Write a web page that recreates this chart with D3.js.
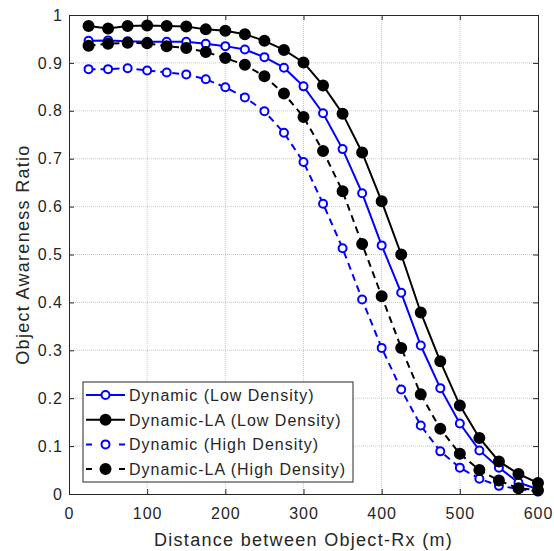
<!DOCTYPE html>
<html>
<head>
<meta charset="utf-8">
<script src="https://cdn.jsdelivr.net/npm/d3@7"></script>
<style>
  body { margin: 0; background: #fff; }
  svg text { font-family: "Liberation Sans", Arial, sans-serif; fill: #262626; }
</style>
</head>
<body>
<div id="chart"></div>
<script>
// distances (m)
const distances = [25, 50, 75, 100, 125, 150, 175, 200, 225, 250, 275, 300,
  325, 350, 375, 400, 425, 450, 475, 500, 525, 550, 575, 600];

const dynamicLow = [0.946, 0.947, 0.945, 0.944, 0.944, 0.944, 0.940, 0.935, 0.928, 0.912, 0.890, 0.851,
  0.795, 0.720, 0.628, 0.519, 0.420, 0.310, 0.221, 0.147, 0.091, 0.055, 0.024, 0.010];
const dynamicLALow = [0.977, 0.972, 0.977, 0.978, 0.977, 0.976, 0.970, 0.967, 0.960, 0.946, 0.927, 0.901,
  0.853, 0.794, 0.713, 0.611, 0.500, 0.379, 0.277, 0.185, 0.117, 0.068, 0.042, 0.023];
const dynamicHigh = [0.887, 0.887, 0.889, 0.884, 0.880, 0.876, 0.866, 0.849, 0.828, 0.799, 0.754, 0.693,
  0.606, 0.513, 0.406, 0.305, 0.218, 0.143, 0.089, 0.055, 0.032, 0.017, 0.011, 0.005];
const dynamicLAHigh = [0.936, 0.940, 0.942, 0.941, 0.935, 0.931, 0.923, 0.910, 0.896, 0.872, 0.836, 0.787,
  0.716, 0.632, 0.522, 0.413, 0.305, 0.208, 0.136, 0.084, 0.050, 0.028, 0.012, 0.008];

const xTicks = [0, 100, 200, 300, 400, 500, 600];
const yTicks = [0, 0.1, 0.2, 0.3, 0.4, 0.5, 0.6, 0.7, 0.8, 0.9, 1];

const series = [
  { name: "Dynamic (Low Density)", values: dynamicLow, color: "#0000ff", dash: null, filled: false },
  { name: "Dynamic-LA (Low Density)", values: dynamicLALow, color: "#000000", dash: null, filled: true },
  { name: "Dynamic (High Density)", values: dynamicHigh, color: "#0000ff", dash: "7,5", filled: false },
  { name: "Dynamic-LA (High Density)", values: dynamicLAHigh, color: "#000000", dash: "7,5", filled: true }
];

const width = 554, height = 551;
const margin = { left: 69, right: 16, top: 15, bottom: 57 };

const svg = d3.select("#chart").append("svg")
  .attr("width", width)
  .attr("height", height);

const x = d3.scaleLinear().domain([0, 600]).range([margin.left, width - margin.right]);
const y = d3.scaleLinear().domain([0, 1]).range([height - margin.bottom, margin.top]);

// grid
const grid = svg.append("g");
grid.selectAll(".gx").data(xTicks.slice(1, -1)).enter().append("line")
  .attr("x1", d => x(d)).attr("x2", d => x(d))
  .attr("y1", y(0)).attr("y2", y(1))
  .attr("stroke", "#c8c8c8").attr("stroke-width", 1).attr("stroke-dasharray", "1,1");
grid.selectAll(".gy").data(yTicks.slice(1, -1)).enter().append("line")
  .attr("x1", x(0)).attr("x2", x(600))
  .attr("y1", d => y(d)).attr("y2", d => y(d))
  .attr("stroke", "#c8c8c8").attr("stroke-width", 1).attr("stroke-dasharray", "1,1");

// axes (MATLAB box style, ticks inward)
const xAxis = svg.append("g")
  .attr("transform", "translate(0," + y(0) + ")")
  .call(d3.axisBottom(x).tickValues(xTicks).tickSizeInner(-5).tickSizeOuter(0).tickPadding(14));
const yAxis = svg.append("g")
  .attr("transform", "translate(" + x(0) + ",0)")
  .call(d3.axisLeft(y).tickValues(yTicks).tickSizeInner(-5).tickSizeOuter(0).tickPadding(6)
    .tickFormat(d => d === 0 || d === 1 ? d3.format("d")(d) : d3.format(".1f")(d)));
const xTop = svg.append("g")
  .attr("transform", "translate(0," + y(1) + ")")
  .call(d3.axisTop(x).tickValues(xTicks).tickSizeInner(-5).tickSizeOuter(0).tickFormat(""));
const yRight = svg.append("g")
  .attr("transform", "translate(" + x(600) + ",0)")
  .call(d3.axisRight(y).tickValues(yTicks).tickSizeInner(-5).tickSizeOuter(0).tickFormat(""));

[xAxis, yAxis, xTop, yRight].forEach(g => {
  g.select(".domain").attr("stroke", "#262626").attr("stroke-width", 1);
  g.selectAll(".tick line").attr("stroke", "#262626");
  g.selectAll("text").style("font-size", "16px").style("letter-spacing", "1px")
    .attr("fill", "#262626")
    .style("font-family", "'Liberation Sans', Arial, sans-serif");
});

// axis labels
svg.append("text")
  .attr("x", (x(0) + x(600)) / 2)
  .attr("y", 546)
  .attr("text-anchor", "middle")
  .style("font-size", "18px")
  .style("letter-spacing", "1.3px")
  .text("Distance between Object-Rx (m)");
svg.append("text")
  .attr("transform", "translate(29," + (y(0) + y(1)) / 2 + ") rotate(-90)")
  .attr("text-anchor", "middle")
  .style("font-size", "18px")
  .style("letter-spacing", "1.3px")
  .text("Object Awareness Ratio");

// lines and markers
const line = d3.line()
  .x((d, i) => x(distances[i]))
  .y(d => y(d));

series.forEach(s => {
  svg.append("path")
    .datum(s.values)
    .attr("d", line)
    .attr("fill", "none")
    .attr("stroke", s.color)
    .attr("stroke-width", 2)
    .attr("stroke-dasharray", s.dash);
  svg.append("g").selectAll("circle")
    .data(s.values)
    .enter()
    .append("circle")
    .attr("cx", (d, i) => x(distances[i]))
    .attr("cy", d => y(d))
    .attr("r", s.filled ? 5 : 4)
    .attr("fill", s.filled ? s.color : "#fff")
    .attr("stroke", s.color)
    .attr("stroke-width", 2);
});

// legend
const legend = svg.append("g").attr("transform", "translate(83,382)");
legend.append("rect")
  .attr("width", 270).attr("height", 100)
  .attr("fill", "#fff").attr("stroke", "#262626").attr("stroke-width", 1);
series.forEach((s, i) => {
  const ly = 13 + i * 24.7;
  legend.append("line")
    .attr("x1", 3).attr("x2", 42).attr("y1", ly).attr("y2", ly)
    .attr("stroke", s.color).attr("stroke-width", 2)
    .attr("stroke-dasharray", s.dash ? "6,9.5,8,9.5,6" : null);
  legend.append("circle")
    .attr("cx", 22.5).attr("cy", ly)
    .attr("r", s.filled ? 5 : 4)
    .attr("fill", s.filled ? s.color : "#fff")
    .attr("stroke", s.color).attr("stroke-width", 2);
  legend.append("text")
    .attr("x", 46).attr("y", ly + 6)
    .style("font-size", "16px")
    .style("letter-spacing", "1px")
    .text(s.name);
});
</script>
</body>
</html>
